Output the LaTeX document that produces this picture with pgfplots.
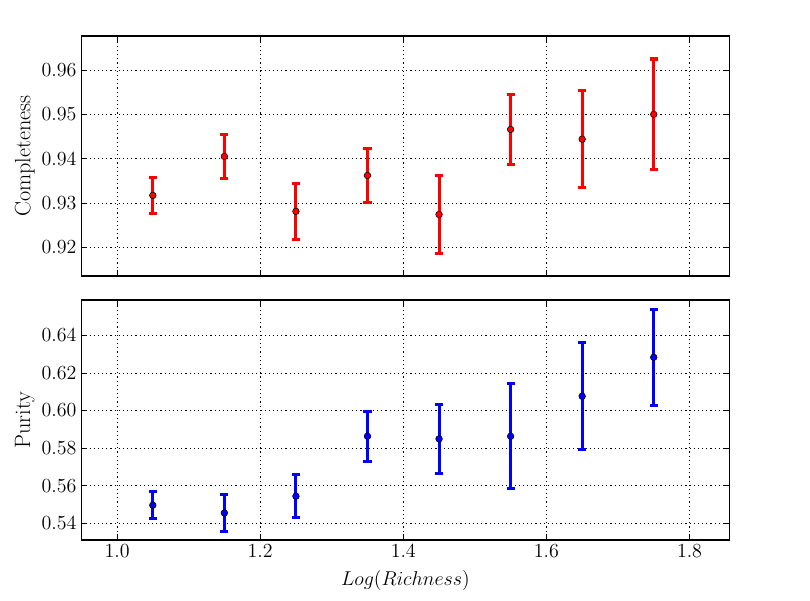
\documentclass[border=0pt]{standalone}
\usepackage{pgfplots}
\pgfplotsset{compat=1.18}
\usepackage{pgfplotstable}
\pgfplotstableread{
x y e
1.05 0.9317 0.0040
1.15 0.9405 0.0049
1.25 0.9281 0.0063
1.35 0.9362 0.0060
1.45 0.9274 0.0089
1.55 0.9466 0.0079
1.65 0.9444 0.0110
1.75 0.9500 0.0125
}\comptable
\pgfplotstableread{
x y e
1.05 0.5496 0.0073
1.15 0.5455 0.0097
1.25 0.5544 0.0115
1.35 0.5863 0.0134
1.45 0.5849 0.0183
1.55 0.5863 0.0279
1.65 0.6076 0.0285
1.75 0.6283 0.0255
}\puritytable
\pgfplotsset{
  panel/.style={
    scale only axis, width=466.8pt, height=172.8pt,
    anchor=south west,
    xmin=0.95, xmax=1.856,
    xtick={1.0,1.2,1.4,1.6,1.8},
    tick align=inside,
    major tick length=4pt,
    axis line style={line width=0.8pt},
    tick style={line width=0.6pt, black},
    grid=major,
    major grid style={black, line width=0.5pt, dash pattern=on 0.8pt off 2.2pt},
    ticklabel style={font=\fontsize{14.4}{17}\selectfont},
    label style={font=\fontsize{16}{19}\selectfont},
    xticklabel style={/pgf/number format/.cd, fixed, fixed zerofill, precision=1},
    yticklabel style={/pgf/number format/.cd, fixed, fixed zerofill, precision=2},
    ylabel style={at={(axis description cs:-0.087,0.5)}, anchor=center, rotate=0},
    scaled y ticks=false,
  },
  ebar/.style={
    only marks,
    mark=*,
    mark size=2.4pt,
    mark options={draw=black, fill=#1, line width=0.4pt},
    error bars/.cd,
      y dir=both, y explicit,
      error bar style={line width=2.2pt, #1},
      error mark=-,
      error mark options={rotate=90, mark size=2.9pt, line width=2.2pt, #1},
  },
}
\begin{document}
\begin{tikzpicture}
\path[use as bounding box] (0,0) rectangle (583.2pt,432pt);
\begin{axis}[panel, at={(58.5pt,233.28pt)},
  ymin=0.9135, ymax=0.9677,
  ytick={0.92,0.93,0.94,0.95,0.96},
  xticklabels={},
  ylabel={Completeness}]
\addplot+[ebar=red] table[x=x, y=y, y error=e] {\comptable};
\end{axis}
\begin{axis}[panel, at={(58.5pt,43.2pt)},
  ymin=0.5311, ymax=0.6588,
  ytick={0.54,0.56,0.58,0.60,0.62,0.64},
  ylabel={Purity},
  xlabel={$Log(Richness)$},
  xlabel style={at={(axis description cs:0.5,-0.17)}, anchor=center, font=\fontsize{14.4}{17}\selectfont}]
\addplot+[ebar=blue] table[x=x, y=y, y error=e] {\puritytable};
\end{axis}
\end{tikzpicture}
\end{document}
